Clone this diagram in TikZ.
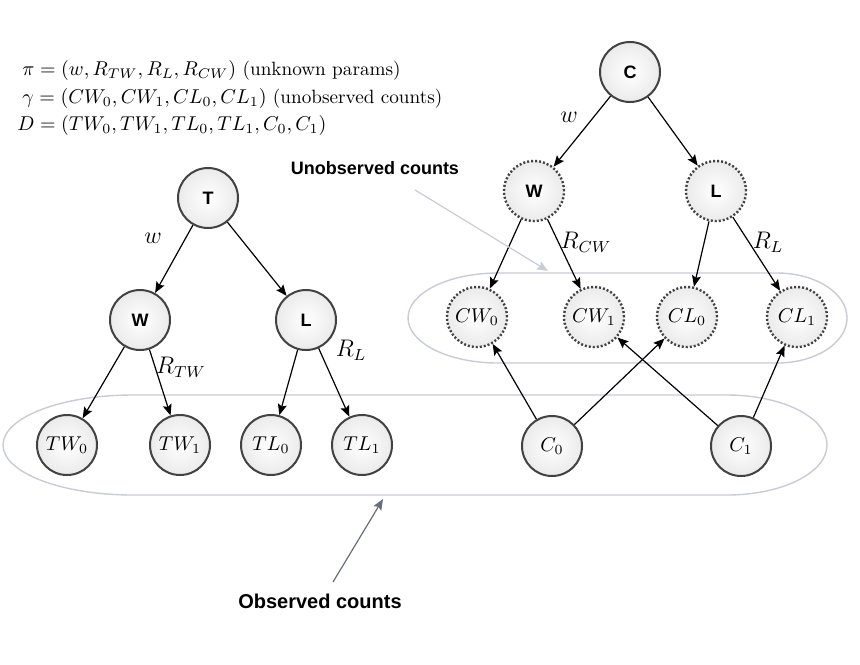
\documentclass[tikz,border=0pt]{standalone}
\usepackage{amsmath}
\usepackage{fontspec}
\newfontfamily\tagsans{Liberation Sans}
\usetikzlibrary{arrows.meta}
\definecolor{rimgray}{RGB}{66,66,66}
\definecolor{blobgray}{RGB}{200,204,212}
\definecolor{pointgray}{RGB}{104,110,122}

\begin{document}
\begin{tikzpicture}[x=0.5pt,y=-0.5pt,>={Stealth[length=5.5pt,width=4.5pt,inset=1pt]},
    obs/.style={circle,draw=rimgray,line width=1pt,inner color=white,outer color=gray!16,
      minimum size=30pt,inner sep=0pt},
    hid/.style={obs,dash pattern=on 1pt off 1pt,line width=1.2pt},
    bigtag/.style={font=\tagsans\bfseries\fontsize{9}{10}\selectfont},
    edgelab/.style={font=\fontsize{11.5}{13}\selectfont,inner sep=0pt},
    blob/.style={draw=blobgray,line width=0.7pt},
    link/.style={->,line width=0.6pt}]
    \useasboundingbox[fill=white] (0,0) rectangle (860,664);
    % parameter summary
    \begin{scope}[every node/.style={anchor=west,inner sep=0pt,font=\fontsize{9.6}{11}\selectfont}]
      \node (pi) at (22,70) {$\pi=(w,R_{TW},R_L,R_{CW})$ (unknown params)};
      \node (gam) at (22,98) {$\gamma=(CW_0,CW_1,CL_0,CL_1)$ (unobserved counts)};
      \node (dat) at (17,125) {$D=(TW_0,TW_1,TL_0,TL_1,C_0,C_1)$};
    \end{scope}
    % left tree
    \node[obs,bigtag] (T) at (208,198) {T};
    \node[obs,bigtag] (Wl) at (140,320) {W};
    \node[obs,bigtag] (Ll) at (306,320) {L};
    \node[obs] (TW0) at (67,445) {$TW_0$};
    \node[obs] (TW1) at (180,445) {$TW_1$};
    \node[obs] (TL0) at (271,445) {$TL_0$};
    \node[obs] (TL1) at (362,445) {$TL_1$};
    % right tree
    \node[obs,bigtag] (C) at (630,72) {C};
    \node[hid,bigtag] (Wr) at (534,191) {W};
    \node[hid,bigtag] (Lr) at (716,191) {L};
    \node[hid] (CW0) at (477,317) {$CW_0$};
    \node[hid] (CW1) at (594,317) {$CW_1$};
    \node[hid] (CL0) at (687,317) {$CL_0$};
    \node[hid] (CL1) at (797,317) {$CL_1$};
    \node[obs] (C0) at (552,446) {$C_0$};
    \node[obs] (C1) at (741,446) {$C_1$};
    % groupings
    \draw[blob] (133,395) -- (727,395) arc[start angle=-90,end angle=90,x radius=100,y radius=50]
      -- (133,495) arc[start angle=90,end angle=270,x radius=130,y radius=50] -- cycle;
    \draw[blob] (498,273) -- (777,273) arc[start angle=-90,end angle=90,x radius=70,y radius=45]
      -- (498,363) arc[start angle=90,end angle=270,x radius=90,y radius=45] -- cycle;
    % edge labels
    \node[edgelab] (lw1) at (153,238) {$w$};
    \node[edgelab] (lrtw) at (181,367) {$R_{TW}$};
    \node[edgelab] (lrl1) at (351,350) {$R_L$};
    \node[edgelab] (lw2) at (569,117) {$w$};
    \node[edgelab] (lrcw) at (586,242) {$R_{CW}$};
    \node[edgelab] (lrl2) at (768,242) {$R_L$};
    % arrows
    \draw[link] (T) -- (Wl);
    \draw[link] (T) -- (Ll);
    \draw[link] (Wl) -- (TW0);
    \draw[link] (Wl) -- (TW1);
    \draw[link] (Ll) -- (TL0);
    \draw[link] (Ll) -- (TL1);
    \draw[link] (C) -- (Wr);
    \draw[link] (C) -- (Lr);
    \draw[link] (Wr) -- (CW0);
    \draw[link] (Wr) -- (CW1);
    \draw[link] (Lr) -- (CL0);
    \draw[link] (Lr) -- (CL1);
    \draw[link] (C0) -- (CW0);
    \draw[link] (C0) -- (CL0);
    \draw[link] (C1) -- (CW1);
    \draw[link] (C1) -- (CL1);
    % callouts
    \node[bigtag] (unobs) at (375,168) {Unobserved counts};
    \node[bigtag,font=\tagsans\bfseries\fontsize{10}{11}\selectfont] (observ) at (320,601) {Observed counts};
    \coordinate (utail) at (415,190);
    \coordinate (utip) at (548,271);
    \coordinate (otail) at (333,582);
    \coordinate (otip) at (383,499);
    \draw[->,draw=blobgray,line width=0.6pt] (utail) -- (utip);
    \draw[->,draw=pointgray,line width=0.6pt] (otail) -- (otip);
  \end{tikzpicture}
\end{document}
